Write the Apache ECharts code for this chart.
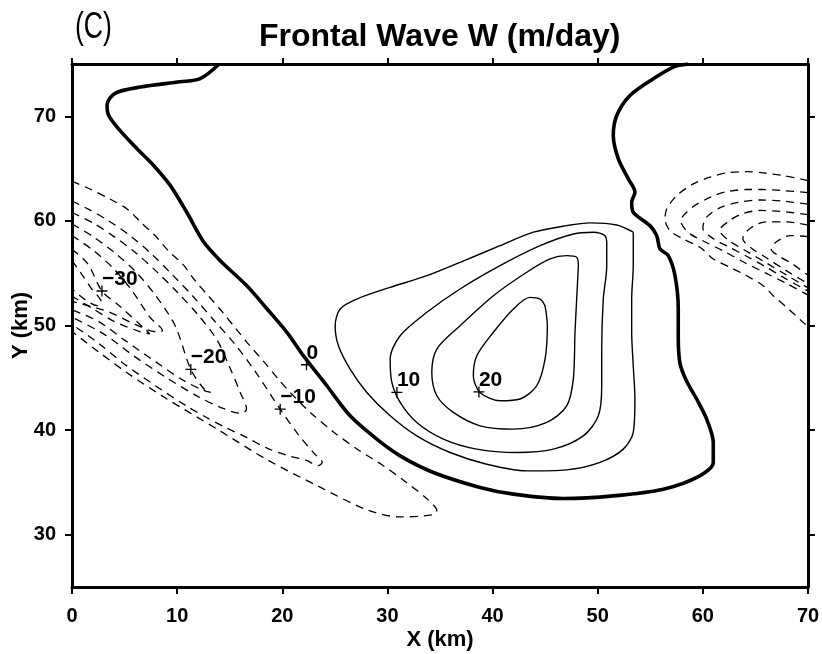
<!DOCTYPE html>
<html><head><meta charset="utf-8">
<script src="https://cdn.jsdelivr.net/npm/echarts@6/dist/echarts.min.js"></script>
<style>html,body{margin:0;padding:0;background:#fff}#c{width:822px;height:654px}</style>
</head><body><div id="c"></div>
<script>
// ---- axes ----
const xTicks = [0, 10, 20, 30, 40, 50, 60, 70];
const yTicks = [30, 40, 50, 60, 70];

// ---- zero contour (thick) ----
const zeroContour = [
  [14.0,75],[12.2,73.6],[10.3,73.3],[6.5,72.8],[4.1,72.2],[3.33,71.1],[3.48,70.1],[4.43,68.8],
  [6.18,66.9],[7.76,65.3],[9.34,63.4],[10.93,60.8],[12.51,58.0],[14.1,56.2],[16.63,53.8],
  [18.54,51.6],[20.44,49.35],[22.02,47.1],[24.24,44.24],[26.45,41.37],[28.99,39.14],[31.21,37.54],
  [34.37,35.95],[38.81,34.52],[41.98,33.88],[46.73,33.46],[51.48,33.71],[56.24,34.35],[59.72,35.63],
  [60.99,36.91],[60.99,38.82],[60.36,41.05],[59.41,42.97],[58.4,44.8],[57.82,46.4],[57.66,49.0],
  [57.66,51.58],[57.35,54.77],[56.71,56.68],[55.92,57.32],[55.61,58.59],[54.97,59.55],[53.38,60.83],
  [53.23,61.79],[53.54,62.75],[52.91,64.02],[51.96,65.93],[51.48,68.16],[51.81,70.08],[53.07,71.99],
  [55.29,73.59],[57.19,74.71],[58.6,75]
];

// ---- positive contours (solid) ----
const pos5 = [
  [53.38,58.92],[51.81,59.61],[49.27,59.81],[47.05,59.55],[43.88,58.92],[40.71,57.63],[36.91,56.04],
  [33.75,54.76],[30.26,53.65],[27.09,52.53],[25.5,51.58],[25.03,49.98],[25.34,48.06],[26.45,45.83],
  [28.04,43.6],[30.26,41.37],[32.79,39.45],[35.96,37.86],[39.45,36.74],[43.25,36.1],[47.05,36.2],
  [50.22,36.91],[52.43,38.18],[53.38,39.78],[53.54,42.96],[53.38,46.15],[53.23,49.35],[53.23,52.53],
  [53.38,55.72],[53.38,57.63],[53.38,58.92]
];
const pos10 = [
  [50.86,57.96],[50.69,58.59],[49.58,58.92],[47.68,58.75],[44.52,57.63],[40.71,55.72],[36.91,53.49],
  [33.75,51.26],[31.21,49.02],[30.26,46.79],[30.42,44.56],[31.21,42.65],[32.79,40.73],[35.32,39.14],
  [38.5,38.18],[42.3,37.86],[45.78,38.18],[48.63,39.45],[50.06,41.37],[50.38,44.24],[50.38,47.75],
  [50.53,52.53],[50.86,55.72],[50.86,57.96]
];
const pos15 = [
  [48.16,55.72],[48.0,56.52],[47.05,56.68],[45.47,56.36],[43.25,55.09],[40.08,52.85],[36.91,49.98],
  [34.7,47.75],[34.22,45.52],[34.7,43.28],[36.27,41.69],[38.81,40.41],[41.98,40.09],[45.15,40.73],
  [47.05,42.32],[47.68,44.88],[47.84,49.35],[48.0,52.53],[48.16,55.72]
];
const pos20 = [
  [44.99,51.89],[44.52,52.53],[43.56,52.69],[41.98,51.58],[40.08,49.35],[38.5,47.11],[38.17,45.19],
  [38.81,43.6],[40.71,42.8],[42.61,42.97],[44.2,44.24],[44.99,46.79],[45.21,49.98],[44.99,51.89]
];

// ---- negative contours, left group (dashed) ----
const negL5 = [
  [0,63.8],[1.6,63.1],[3.6,62.1],[5.3,61.1],[6.5,59.9],[7.9,58.6],[9.2,57.1],[10.5,55.9],[11.7,54.3],
  [13.0,52.8],[14.3,51.3],[15.5,49.8],[16.8,48.2],[18.2,46.6],[19.6,44.9],[20.75,43.6],[22.65,41.7],
  [24.9,39.8],[27.1,38.2],[29.6,36.6],[31.8,35.0],[33.8,33.4],[34.7,32.3],[34.3,31.9],[31.2,31.7],
  [28.0,32.4],[23.3,34.7],[18.5,37.2],[13.8,40.1],[9.0,43.0],[5.2,45.5],[2.5,47.5],[0.8,48.8],[0,49.4]
];
const negL10 = [
  [0,61.9],[1.6,61.1],[3.5,60.0],[5.5,58.6],[7.5,56.9],[9.5,54.9],[11.5,52.8],[13.5,50.5],[15.5,48.2],
  [17.5,45.5],[19.8,42.0],[21.5,39.6],[23.0,37.8],[23.8,36.9],[23.4,36.6],[22.3,37.1],[20.4,37.6],
  [18.5,38.3],[16.6,39.3],[14.7,40.2],[12.8,41.2],[10.9,42.3],[8.0,44.2],[5.0,46.3],[2.4,48.4],[0,50.1]
];
const negL15 = [
  [0,60.8],[2.0,59.8],[4.0,58.5],[6.0,57.0],[8.0,55.2],[10.0,53.2],[12.0,51.0],[13.8,48.6],[15.0,46.0],
  [16.0,43.6],[16.6,42.0],[16.1,41.6],[14.3,42.1],[12.0,43.2],[9.0,45.0],[6.0,47.0],[3.0,49.2],[0,50.8]
];
const negL20 = [
  [0,59.7],[2.0,58.5],[4.0,57.0],[6.0,55.2],[8.0,52.8],[9.8,50.0],[11.3,45.8],[12.5,44.0],[13.2,43.6],
  [12.5,43.8],[10.5,44.8],[8.0,46.5],[5.0,48.6],[2.5,50.4],[0,51.5]
];
const negL25 = [
  [0,58.6],[2.0,57.2],[4.0,55.4],[5.8,53.2],[7.4,50.8],[8.6,49.5],[8.0,49.4],[6.0,50.1],[3.5,51.3],[0,52.3]
];
const negL30 = [
  [0,57.3],[1.5,55.9],[2.85,53.3],[4.6,51.8],[7.0,49.6],[7.4,49.2],[6.5,49.4],[4.0,50.4],[2.0,51.6],[0,52.8]
];
const negL35 = [
  [0,56.2],[1.0,54.8],[1.8,53.6],[2.8,52.2],[2.4,51.9],[1.2,52.5],[0,53.5]
];

// ---- negative contours, right group (dashed) ----
const negR5 = [
  [70,63.85],[67.64,64.33],[65.74,64.59],[64.16,64.71],[62.26,64.59],[60.68,64.18],[59.09,63.54],
  [57.51,62.42],[56.56,61.14],[56.4,60.19],[56.87,59.07],[58.14,58.27],[59.72,57.48],[60.99,56.36],
  [62.57,55.57],[64.16,54.76],[65.74,53.81],[66.69,52.85],[67.97,51.74],[69.54,50.3],[70,49.9]
];
const negR10 = [
  [70,62.7],[67.6,62.9],[65.7,63.0],[64.2,63.0],[62.3,62.8],[60.8,62.3],[59.0,61.3],[57.9,60.0],
  [58.6,58.9],[60.0,58.1],[62.0,57.1],[64.0,56.0],[66.0,55.0],[68.0,54.0],[70,52.9]
];
const negR15 = [
  [70,61.6],[67.5,61.9],[65.5,62.0],[63.5,61.8],[61.7,61.3],[60.3,60.3],[60.0,59.3],[61.0,58.3],
  [62.5,57.5],[64.2,56.6],[66.0,55.6],[68.0,54.4],[70,53.3]
];
const negR20 = [
  [70,60.6],[67.5,60.9],[65.5,61.0],[63.8,60.7],[62.5,60.0],[61.6,59.1],[62.5,58.1],[64.0,57.2],
  [66.0,56.0],[68.0,54.8],[70,53.6]
];
const negR25 = [
  [70,59.6],[68.0,59.9],[66.0,59.9],[64.5,59.3],[63.8,58.3],[64.6,57.4],[66.0,56.5],[68.0,55.2],[70,54.0]
];
const negR30 = [
  [70,58.5],[68.3,58.6],[67.0,58.0],[66.5,57.3],[67.3,56.6],[68.5,55.9],[70,54.8]
];

// ---- contour labels ----
const labelNames = ['0', '−10', '−20', '−30', '10', '20'];
const labelX = [22.3, 19.8, 11.3, 2.85, 30.9, 38.7];
const labelY = [46.25, 42.0, 45.8, 53.3, 43.6, 43.65];

const FONT = 'Liberation Sans, Arial, Helvetica, sans-serif';
const chart = echarts.init(document.getElementById('c'), null, {renderer: 'canvas'});

function contour(data, kind) {
  const styles = {
    zero: {color: '#000', width: 3.6, type: 'solid'},
    pos: {color: '#000', width: 1.4, type: 'solid'},
    neg: {color: '#000', width: 1.3, type: [8, 6]}
  };
  return {
    type: 'line', data: data, showSymbol: false, symbol: 'none', smooth: 0.3,
    smoothMonotone: null, lineStyle: styles[kind], silent: true, animation: false, z: 3,
    clip: true
  };
}

const series = [
  contour(zeroContour, 'zero'),
  contour(pos5, 'pos'), contour(pos10, 'pos'), contour(pos15, 'pos'), contour(pos20, 'pos'),
  contour(negL5, 'neg'), contour(negL10, 'neg'), contour(negL15, 'neg'), contour(negL20, 'neg'),
  contour(negL25, 'neg'), contour(negL30, 'neg'), contour(negL35, 'neg'),
  contour(negR5, 'neg'), contour(negR10, 'neg'), contour(negR15, 'neg'), contour(negR20, 'neg'),
  contour(negR25, 'neg'), contour(negR30, 'neg'),
  {
    type: 'scatter', silent: true, animation: false, z: 5,
    symbol: 'path://M0,4.4H10V5.6H0Z M4.4,0H5.6V10H4.4Z', symbolSize: 11,
    itemStyle: {color: '#000', opacity: 1},
    data: labelNames.map((n, i) => ({name: n, value: [labelX[i], labelY[i]]})),
    label: {
      show: true, formatter: p => p.name, position: 'inside', align: 'left', verticalAlign: 'middle',
      offset: [0, -12], color: '#000', fontSize: 21, fontWeight: 'bold', fontFamily: FONT,
      textBorderWidth: 0
    }
  }
];

const axisLineStyle = {show: true, onZero: false, lineStyle: {color: '#000', width: 3}};
const tickStyle = {show: true, length: 7, lineStyle: {color: '#000', width: 2}};
const labelStyle = {color: '#000', fontSize: 20, fontWeight: 'bold', fontFamily: FONT};

chart.setOption({
  animation: false,
  backgroundColor: '#fff',
  grid: {left: 72, right: 14, top: 64, bottom: 67, containLabel: false, outerBoundsMode: 'none'},
  xAxis: [
    {type: 'value', min: 0, max: 70, interval: 10, position: 'bottom',
     axisLine: axisLineStyle, axisTick: tickStyle, splitLine: {show: false},
     axisLabel: Object.assign({margin: 19}, labelStyle),
     name: 'X (km)', nameLocation: 'middle', nameGap: 42, nameMoveOverlap: false,
     nameTextStyle: {color: '#000', fontSize: 22, fontWeight: 'bold', fontFamily: FONT}},
    {type: 'value', min: 0, max: 70, interval: 10, position: 'top',
     axisLine: axisLineStyle, axisTick: Object.assign({}, tickStyle, {length: 6}),
     splitLine: {show: false}, axisLabel: {show: false}}
  ],
  yAxis: [
    {type: 'value', min: 25, max: 75, position: 'left',
     axisLine: axisLineStyle,
     axisTick: Object.assign({customValues: yTicks}, tickStyle),
     axisLabel: Object.assign({customValues: yTicks, margin: 16}, labelStyle),
     splitLine: {show: false},
     name: 'Y (km)', nameLocation: 'middle', nameGap: 40, nameRotate: 90, nameMoveOverlap: false,
     nameTextStyle: {color: '#000', fontSize: 22, fontWeight: 'bold', fontFamily: FONT}},
    {type: 'value', min: 25, max: 75, position: 'right',
     axisLine: axisLineStyle,
     axisTick: Object.assign({customValues: yTicks}, tickStyle),
     axisLabel: {show: false}, splitLine: {show: false}}
  ],
  graphic: [
    {type: 'text', left: 259, top: 21, style: {text: 'Frontal Wave W (m/day)', fill: '#000',
      font: 'bold 32px ' + FONT}},
    {type: 'text', left: 75, top: 10, scaleX: 0.74, style: {text: '(C)', fill: '#000', font: '36px ' + FONT}}
  ],
  series: series
});
</script>
</body></html>
